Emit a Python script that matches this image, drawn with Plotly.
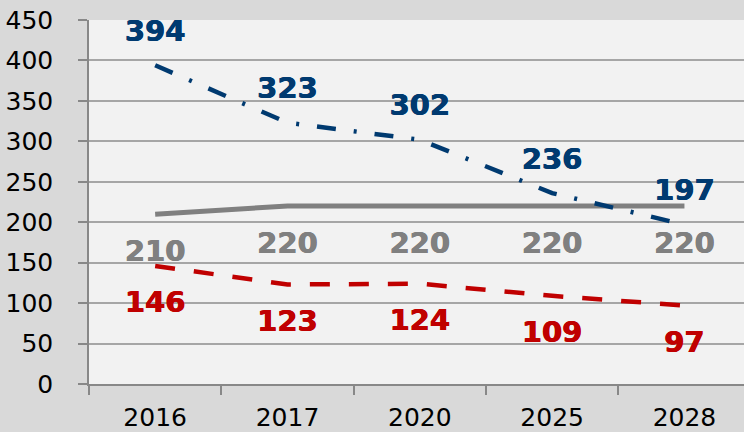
import plotly.graph_objects as go

years = ["2016", "2017", "2020", "2025", "2028"]
blue_vals = [394, 323, 302, 236, 197]
gray_vals = [210, 220, 220, 220, 220]
red_vals = [146, 123, 124, 109, 97]
y_ticks = [0, 50, 100, 150, 200, 250, 300, 350, 400, 450]

BLUE = "#003A70"
GRAY = "#808080"
RED = "#C00000"
FONT = "DejaVu Sans"

fig = go.Figure()
fig.add_trace(go.Scatter(x=years, y=gray_vals, mode="lines",
                         line=dict(color=GRAY, width=5), showlegend=False, hoverinfo="skip"))
fig.add_trace(go.Scatter(x=years, y=red_vals, mode="lines",
                         line=dict(color=RED, width=4.5, dash="20px,19px"), showlegend=False,
                         hoverinfo="skip"))
fig.add_trace(go.Scatter(x=years, y=blue_vals, mode="lines",
                         line=dict(color=BLUE, width=4.5, dash="19px,18px,3px,18px"),
                         showlegend=False, hoverinfo="skip"))

# value labels: invisible markers push the text away from the point
for series, color, pos, msize in [(blue_vals, BLUE, "top center", 26),
                                  (gray_vals, GRAY, "bottom center", 38),
                                  (red_vals, RED, "bottom center", 38)]:
    fig.add_trace(go.Scatter(
        x=years, y=series, mode="markers+text",
        text=[str(v) for v in series], textposition=pos,
        textfont=dict(family=FONT, size=29, color=color, weight="bold",
                      shadow="0.4px 0 0 %s, -0.4px 0 0 %s" % (color, color)),
        marker=dict(size=msize, color="rgba(0,0,0,0)"),
        showlegend=False, hoverinfo="skip", cliponaxis=False))

fig.update_layout(
    width=744, height=432,
    margin=dict(l=89, r=0, t=20, b=48, autoexpand=False),
    paper_bgcolor="#D9D9D9", plot_bgcolor="#F2F2F2",
    font=dict(family=FONT, size=25, color="#000000"),
    xaxis=dict(type="category", range=[-0.5, 4.45], showgrid=False,
               showline=True, linecolor="#888888", linewidth=1.5,
               ticks="outside", tickson="boundaries", ticklen=9, tickcolor="#888888",
               tickwidth=1.5, ticklabelstandoff=10, tickfont=dict(size=25)),
    yaxis=dict(range=[0, 450], tickvals=y_ticks, showgrid=True, gridcolor="#A6A6A6",
               gridwidth=1.5, showline=True, linecolor="#888888", linewidth=1.5,
               ticks="outside", ticklen=9, tickcolor="#888888", tickwidth=1.5,
               ticklabelstandoff=20, zeroline=False, tickfont=dict(size=25)),
)

fig.write_html("out.html", config={"displayModeBar": False},
               post_script="document.body.style.margin='0';document.body.style.overflow='hidden';")
